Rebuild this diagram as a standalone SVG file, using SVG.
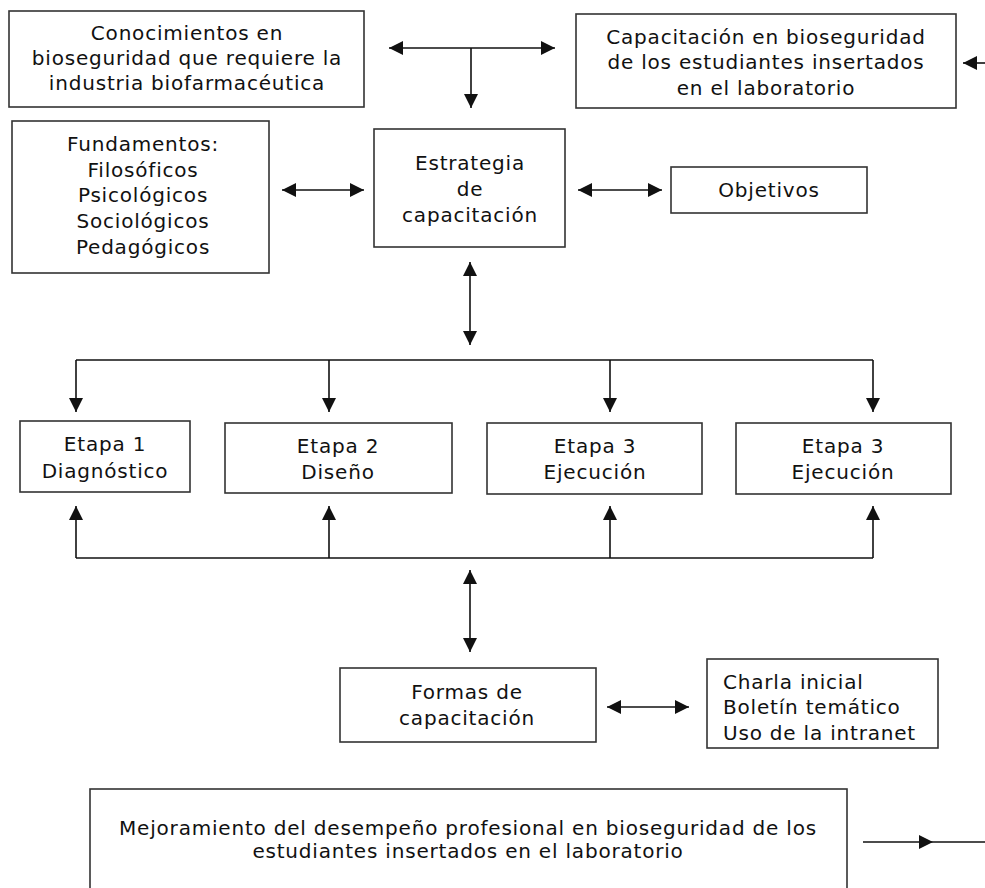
<svg xmlns="http://www.w3.org/2000/svg" width="985" height="888" viewBox="0 0 985 888">
<style>
.b{fill:#fff;stroke:#333;stroke-width:1.6}
.t{font-family:"DejaVu Sans",Verdana,sans-serif;font-size:20px;letter-spacing:0.8px;fill:#111;text-anchor:middle}
.l{text-anchor:start}
.c{fill:none;stroke:#111;stroke-width:1.6}
.a{marker-end:url(#ah)}
.d{marker-start:url(#ah);marker-end:url(#ah)}
</style>
<defs>
<marker id="ah" markerUnits="userSpaceOnUse" markerWidth="16" markerHeight="16" viewBox="0 0 16 16" refX="15" refY="8" orient="auto-start-reverse"><path d="M1,1 L15,8 L1,15 z" fill="#111"/></marker>
<marker id="am" markerUnits="userSpaceOnUse" markerWidth="16" markerHeight="16" viewBox="0 0 16 16" refX="15" refY="8" orient="auto"><path d="M1,1 L15,8 L1,15 z" fill="#111"/></marker>
</defs>
<rect width="985" height="888" fill="#fff"/>
<g id="connectors">
<path class="c d" d="M389,48 H555"/>
<path class="c a" d="M471,48 V108"/>
<path class="c a" d="M985,63 H963"/>
<path class="c d" d="M282,190 H364"/>
<path class="c d" d="M578,190 H662"/>
<path class="c d" d="M470,262 V345"/>
<path class="c" d="M76,360 H873"/>
<path class="c a" d="M76,360 V412"/>
<path class="c a" d="M329,360 V412"/>
<path class="c a" d="M610,360 V412"/>
<path class="c a" d="M873,360 V412"/>
<path class="c" d="M76,558 H873"/>
<path class="c a" d="M76,558 V506"/>
<path class="c a" d="M329,558 V506"/>
<path class="c a" d="M610,558 V506"/>
<path class="c a" d="M873,558 V506"/>
<path class="c d" d="M470,570 V652"/>
<path class="c d" d="M607,707 H689"/>
<path class="c" d="M863,842 L933,842 L985,842" style="marker-mid:url(#am)"/>
</g>
<g id="conocimientos">
<rect class="b" x="9" y="11" width="355" height="96"/>
<text class="t" x="187" y="40">Conocimientos en</text>
<text class="t" x="187" y="65">bioseguridad que requiere la</text>
<text class="t" x="187" y="90">industria biofarmacéutica</text>
</g>
<g id="capacitacion">
<rect class="b" x="576" y="14" width="380" height="94"/>
<text class="t" x="766" y="44">Capacitación en bioseguridad</text>
<text class="t" x="766" y="69">de los estudiantes insertados</text>
<text class="t" x="766" y="95">en el laboratorio</text>
</g>
<g id="fundamentos">
<rect class="b" x="12" y="121" width="257" height="152"/>
<text class="t" x="143" y="151">Fundamentos:</text>
<text class="t" x="143" y="177">Filosóficos</text>
<text class="t" x="143" y="202">Psicológicos</text>
<text class="t" x="143" y="228">Sociológicos</text>
<text class="t" x="143" y="254">Pedagógicos</text>
</g>
<g id="estrategia">
<rect class="b" x="374" y="129" width="191" height="118"/>
<text class="t" x="470" y="170">Estrategia</text>
<text class="t" x="470" y="196">de</text>
<text class="t" x="470" y="222">capacitación</text>
</g>
<g id="objetivos">
<rect class="b" x="671" y="167" width="196" height="46"/>
<text class="t" x="769" y="197">Objetivos</text>
</g>
<g id="etapa1">
<rect class="b" x="20" y="421" width="170" height="71"/>
<text class="t" x="105" y="451">Etapa 1</text>
<text class="t" x="105" y="478">Diagnóstico</text>
</g>
<g id="etapa2">
<rect class="b" x="225" y="423" width="227" height="70"/>
<text class="t" x="338" y="453">Etapa 2</text>
<text class="t" x="338" y="479">Diseño</text>
</g>
<g id="etapa3">
<rect class="b" x="487" y="423" width="215" height="71"/>
<text class="t" x="595" y="453">Etapa 3</text>
<text class="t" x="595" y="479">Ejecución</text>
</g>
<g id="etapa4">
<rect class="b" x="736" y="423" width="215" height="71"/>
<text class="t" x="843" y="453">Etapa 3</text>
<text class="t" x="843" y="479">Ejecución</text>
</g>
<g id="formas">
<rect class="b" x="340" y="668" width="256" height="74"/>
<text class="t" x="467" y="699">Formas de</text>
<text class="t" x="467" y="725">capacitación</text>
</g>
<g id="charla">
<rect class="b" x="707" y="659" width="231" height="89"/>
<text class="t l" x="723" y="689">Charla inicial</text>
<text class="t l" x="723" y="714">Boletín temático</text>
<text class="t l" x="723" y="740">Uso de la intranet</text>
</g>
<g id="mejoramiento">
<rect class="b" x="90" y="789" width="757" height="110"/>
<text class="t" x="468" y="835">Mejoramiento del desempeño profesional en bioseguridad de los</text>
<text class="t" x="468" y="858">estudiantes insertados en el laboratorio</text>
</g>
</svg>
